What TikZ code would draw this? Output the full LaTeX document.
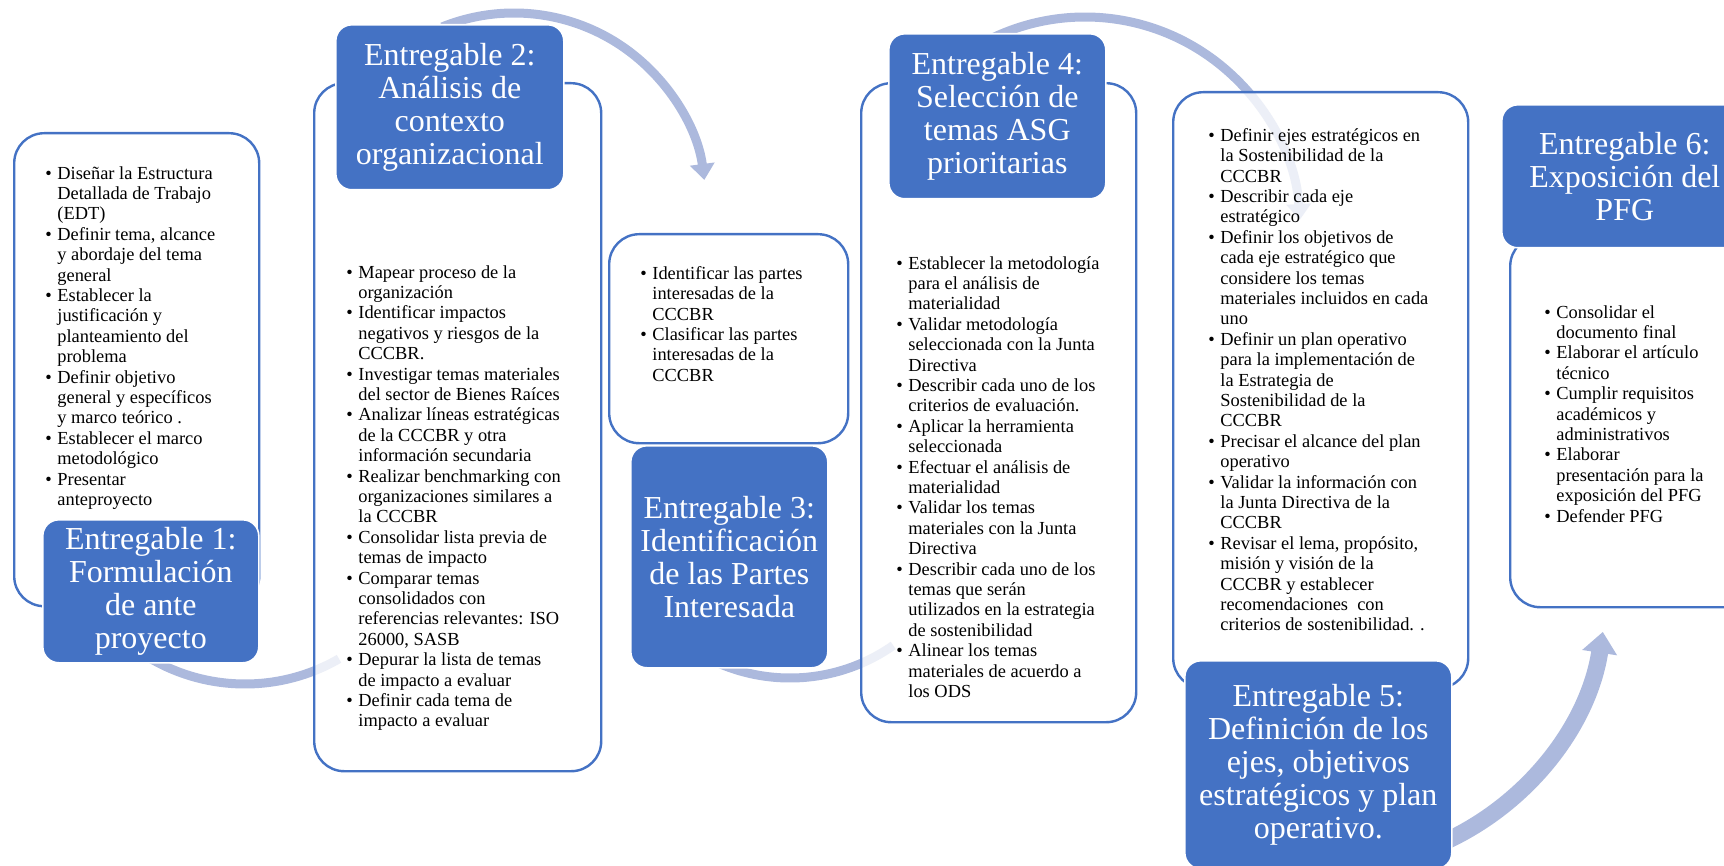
\documentclass[tikz,border=0pt]{standalone}
\usepackage{fontspec}
\setmainfont{Liberation Serif}
\usepackage{xcolor}
\usepackage{tikz}
\usetikzlibrary{arrows.meta}
\definecolor{boxblue}{RGB}{68,114,196}
\definecolor{arcblue}{RGB}{172,185,221}
\newcommand{\lbul}{\makebox[6pt][l]{\textbullet}}
\newcommand{\lind}{\hspace*{6pt}}

\begin{document}
\begin{tikzpicture}[x = 0.5pt, y = 0.5pt,
        panel/.style = {draw = boxblue, line width = 1.2pt, fill = white, fill opacity = 0.78, rounded corners = 15pt, anchor = north west, inner sep = 0pt},
        ebox/.style = {draw = white, line width = 0.8pt, fill = boxblue, rounded corners = 8pt, anchor = north west, align = center, text = white, inner sep = 0pt, font = \fontsize{16pt}{16.5pt}\selectfont},
        list/.style = {anchor = north west, align = left, inner sep = 0pt, font = \fontsize{9.2pt}{10.2pt}\selectfont},
        flow/.style = {draw = arcblue, line width = 4.5pt}]
        \useasboundingbox (0, 0) rectangle (1724, -866);
        \clip (0, 0) rectangle (1724, -866);
        \coordinate (c12) at (245, -496);
        \coordinate (c23) at (514, -205);
        \coordinate (c34) at (790, -498);
        \coordinate (c45) at (1085, -232);
        \coordinate (c56) at (1329, -590);
        \draw [flow] (c12) ++(235:94pt) arc [start angle = 235, end angle = 300, radius = 94pt];
        \draw [flow, -{Triangle[width = 12pt, length = 8pt]}] (c23) ++(112:96pt) arc [start angle = 112, end angle = 7.5, radius = 96pt];
        \draw [flow] (c34) ++(232:90pt) arc [start angle = 232, end angle = 305, radius = 90pt];
        \draw [flow, -{Triangle[width = 12pt, length = 8pt]}] (c45) ++(115:107.5pt) arc [start angle = 115, end angle = 3.2, radius = 107.5pt];
        \draw [flow, line width = 8.5pt, -{Triangle[width = 17pt, length = 10.5pt]}] (c56) ++(-66:138.5pt) arc [start angle = -66, end angle = -8.7, radius = 138.5pt];
        \node (p1) at (13, -132) [panel, minimum width = 122.5pt, minimum height = 236.5pt] {};
        \node (p2) at (313, -82) [panel, minimum width = 143.5pt, minimum height = 344pt] {};
        \node (p3) at (608, -233) [panel, minimum width = 119.5pt, minimum height = 104.5pt] {};
        \node (p4) at (860, -82) [panel, minimum width = 137.5pt, minimum height = 319.5pt] {};
        \node (p5) at (1172, -91) [panel, minimum width = 147.5pt, minimum height = 298pt] {};
        \node (p6) at (1509, -235) [panel, minimum width = 130.5pt, minimum height = 185.5pt] {};
        \node (t1) at (45, -166) [list] {\lbul Diseñar la Estructura\\ \lind Detallada de Trabajo\\ \lind (EDT)\\ \lbul Definir tema, alcance\\ \lind y abordaje del tema\\ \lind general\\ \lbul Establecer la\\ \lind justificación y\\ \lind planteamiento del\\ \lind problema\\ \lbul Definir objetivo\\ \lind general y específicos\\ \lind y marco teórico .\\ \lbul Establecer el marco\\ \lind metodológico\\ \lbul Presentar\\ \lind anteproyecto};
        \node (t2) at (346, -265) [list] {\lbul Mapear proceso de la\\ \lind organización\\ \lbul Identificar impactos\\ \lind negativos y riesgos de la\\ \lind CCCBR.\\ \lbul Investigar temas materiales\\ \lind del sector de Bienes Raíces\\ \lbul Analizar líneas estratégicas\\ \lind de la CCCBR y otra\\ \lind información secundaria\\ \lbul Realizar benchmarking con\\ \lind organizaciones similares a\\ \lind la CCCBR\\ \lbul Consolidar lista previa de\\ \lind temas de impacto\\ \lbul Comparar temas\\ \lind consolidados con\\ \lind referencias relevantes: ISO\\ \lind 26000, SASB\\ \lbul Depurar la lista de temas\\ \lind de impacto a evaluar\\ \lbul Definir cada tema de\\ \lind impacto a evaluar};
        \node (t3) at (640, -266) [list] {\lbul Identificar las partes\\ \lind interesadas de la\\ \lind CCCBR\\ \lbul Clasificar las partes\\ \lind interesadas de la\\ \lind CCCBR};
        \node (t4) at (896, -256) [list] {\lbul Establecer la metodología\\ \lind para el análisis de\\ \lind materialidad\\ \lbul Validar metodología\\ \lind seleccionada con la Junta\\ \lind Directiva\\ \lbul Describir cada uno de los\\ \lind criterios de evaluación.\\ \lbul Aplicar la herramienta\\ \lind seleccionada\\ \lbul Efectuar el análisis de\\ \lind materialidad\\ \lbul Validar los temas\\ \lind materiales con la Junta\\ \lind Directiva\\ \lbul Describir cada uno de los\\ \lind temas que serán\\ \lind utilizados en la estrategia\\ \lind de sostenibilidad\\ \lbul Alinear los temas\\ \lind materiales de acuerdo a\\ \lind los ODS};
        \node (t5) at (1208, -128) [list] {\lbul Definir ejes estratégicos en\\ \lind la Sostenibilidad de la\\ \lind CCCBR\\ \lbul Describir cada eje\\ \lind estratégico\\ \lbul Definir los objetivos de\\ \lind cada eje estratégico que\\ \lind considere los temas\\ \lind materiales incluidos en cada\\ \lind uno\\ \lbul Definir un plan operativo\\ \lind para la implementación de\\ \lind la Estrategia de\\ \lind Sostenibilidad de la\\ \lind CCCBR\\ \lbul Precisar el alcance del plan\\ \lind operativo\\ \lbul Validar la información con\\ \lind la Junta Directiva de la\\ \lind CCCBR\\ \lbul Revisar el lema, propósito,\\ \lind misión y visión de la\\ \lind CCCBR y establecer\\ \lind recomendaciones~ con\\ \lind criterios de sostenibilidad. .};
        \node (t6) at (1544, -305) [list] {\lbul Consolidar el\\ \lind documento final\\ \lbul Elaborar el artículo\\ \lind técnico\\ \lbul Cumplir requisitos\\ \lind académicos y\\ \lind administrativos\\ \lbul Elaborar\\ \lind presentación para la\\ \lind exposición del PFG\\ \lbul Defender PFG};
        \node (e1) at (42, -519) [ebox, minimum width = 108pt, minimum height = 71.5pt] {Entregable 1:\\ Formulación\\ de ante\\ proyecto};
        \node (e2) at (335, -24) [ebox, minimum width = 114pt, minimum height = 82.5pt] {Entregable 2:\\ Análisis de\\ contexto\\ organizacional};
        \node (e3) at (630, -445) [ebox, minimum width = 98.5pt, minimum height = 111pt] {Entregable 3:\\ Identificación\\ de las Partes\\ Interesada};
        \node (e4) at (888, -33) [ebox, minimum width = 108.5pt, minimum height = 82.5pt] {Entregable 4:\\ Selección de\\ temas ASG\\ prioritarias};
        \node (e5) at (1184, -660) [ebox, minimum width = 133.5pt, minimum height = 104pt] {Entregable 5:\\ Definición de los\\ ejes, objetivos\\ estratégicos y plan\\ operativo.};
        \node (e6) at (1501, -104) [ebox, minimum width = 123pt, minimum height = 71.5pt] {Entregable 6:\\ Exposición del\\ PFG};
    \end{tikzpicture}
\end{document}
